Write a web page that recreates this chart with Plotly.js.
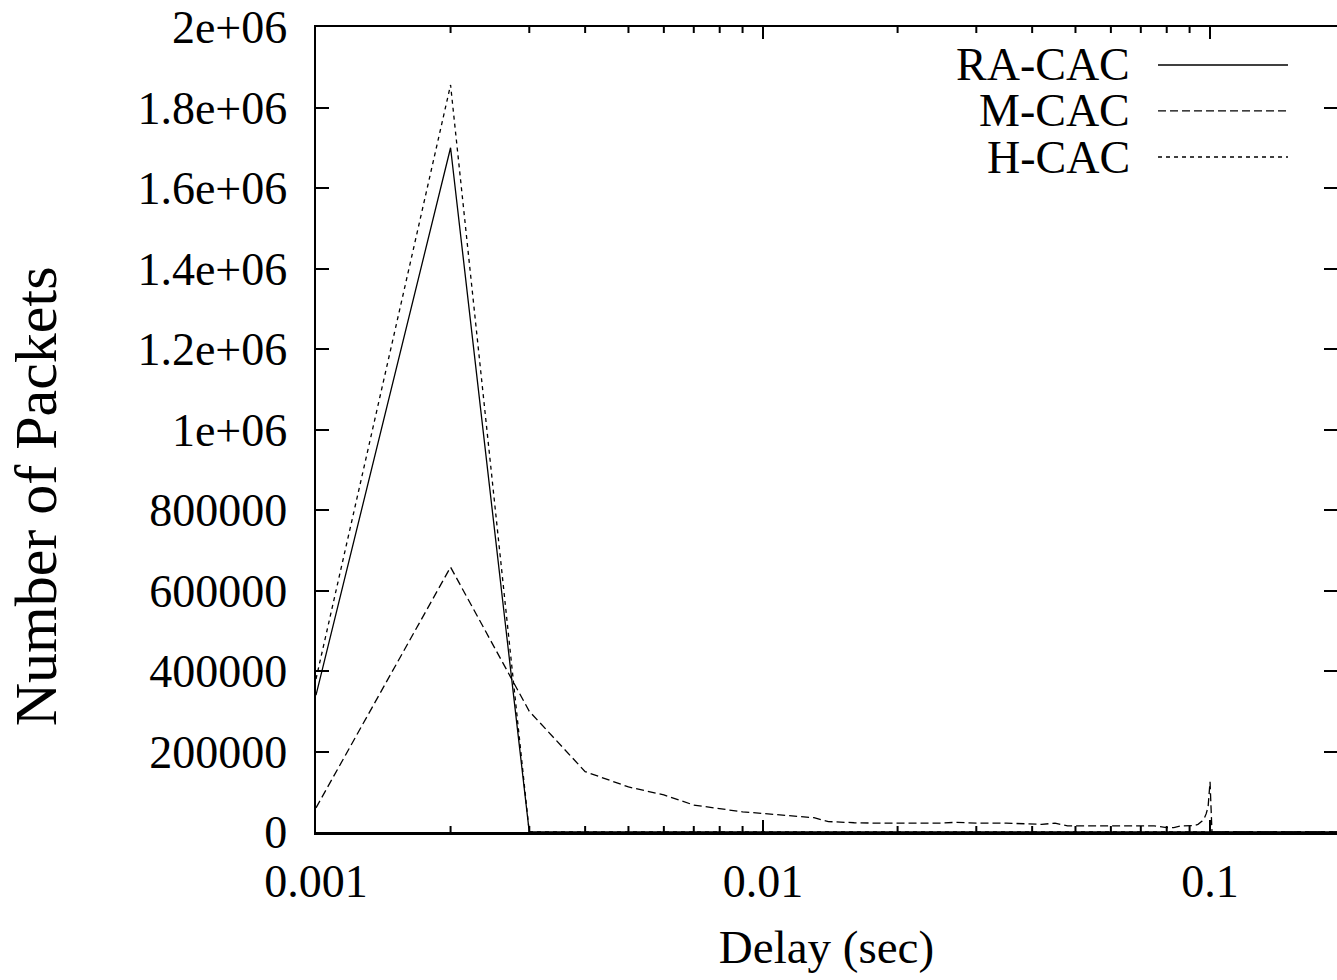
<!DOCTYPE html>
<html><head><meta charset="utf-8">
<script src="https://cdn.plot.ly/plotly-3.0.1.min.js"></script>
<style>html,body{margin:0;padding:0;background:#fff}#chart{width:1337px;height:980px}</style>
</head><body><div id="chart"></div>
<script>
// Delay bins (sec)
const delay = [0.001,0.002,0.003,0.004,0.005,0.006,0.007,0.008,0.009,0.010,
  0.011,0.012,0.013,0.014,0.015,0.016,0.018,0.020,0.025,0.027,
  0.030,0.035,0.040,0.042,0.045,0.048,0.055,0.065,0.075,0.080,
  0.083,0.086,0.090,0.092,0.094,0.095,0.096,0.097,0.098,0.099,
  0.100,0.101,0.150,0.200];
const raCac = [340000,1700000,0,0,0,0,0,0,0,0,
  0,0,0,0,0,0,0,0,0,0,
  0,0,0,0,0,0,0,0,0,0,
  0,0,0,0,0,0,0,0,0,0,
  0,0,0,0];
const mCac = [60000,658000,300000,150000,112000,92000,67000,57000,50000,46000,
  42000,38000,35500,26000,24000,23000,22000,22000,22000,24000,
  22000,22000,21000,19000,22000,15000,15000,15000,15000,11000,
  11000,15000,15000,16000,19000,22000,27000,33000,45000,62000,
  125000,0,0,0];
const hCac = [380000,1856000,0,0,0,0,0,0,0,0,
  0,0,0,0,0,0,0,0,0,0,
  0,0,0,0,0,0,0,0,0,0,
  0,0,0,0,0,0,0,0,0,0,
  0,0,0,0];
const seriesNames = ['RA-CAC','M-CAC','H-CAC'];
const seriesValues = [raCac, mCac, hCac];
const seriesDash = ['solid','8px,4px','4px,4px'];

const yTickVals = [0,200000,400000,600000,800000,1000000,1200000,1400000,1600000,1800000,2000000];
const yTickText = ['0','200000','400000','600000','800000','1e+06','1.2e+06','1.4e+06','1.6e+06','1.8e+06','2e+06'];
const xTickVals = [0.001,0.01,0.1];
const xTickText = ['0.001','0.01','0.1'];
const xMinorVals = [0.002,0.003,0.004,0.005,0.006,0.007,0.008,0.009,
  0.02,0.03,0.04,0.05,0.06,0.07,0.08,0.09];

const FONT = 'Liberation Serif, Times New Roman, serif';
const X_RANGE = [-3, -0.716];
const PLOT_H = 805; // plot area height in px (for tick lengths in paper units)

const traces = seriesNames.map((n,i)=>({
  x: delay, y: seriesValues[i], name: n, type:'scatter', mode:'lines',
  line:{color:'#000', width:1.3, dash:seriesDash[i]}, showlegend:false, hoverinfo:'skip'
}));

// manual gnuplot-style key: text right-aligned, sample to the right
const keyX0 = 0.8247, keyX1 = 0.952, keyTextX = 0.799;
const keyY = [0.9528, 0.8957, 0.8385];
const annotations = seriesNames.map((n,i)=>({
  xref:'paper', yref:'paper', x:keyTextX, y:keyY[i], xanchor:'right', yanchor:'middle',
  text:n, showarrow:false, font:{family:FONT, size:46, color:'#000'}
}));
annotations.push({
  xref:'paper', yref:'paper', x:-0.2742, y:0.417, xanchor:'center', yanchor:'middle',
  text:'Number of Packets', textangle:-90, showarrow:false, font:{family:FONT, size:60, color:'#000'}
});
const shapes = seriesNames.map((n,i)=>({
  type:'line', xref:'paper', yref:'paper', x0:keyX0, x1:keyX1, y0:keyY[i], y1:keyY[i],
  line:{color:'#000', width:1.3, dash:seriesDash[i]}
}));
// minor log ticks (bottom and top), inside, placed along the log axis span
const minorLen = 6 / PLOT_H;
xMinorVals.forEach(v=>{
  const px = (Math.log10(v) - X_RANGE[0]) / (X_RANGE[1] - X_RANGE[0]);
  shapes.push({type:'line', xref:'paper', yref:'paper', x0:px, x1:px, y0:0, y1:minorLen, line:{color:'#000', width:2}});
  shapes.push({type:'line', xref:'paper', yref:'paper', x0:px, x1:px, y0:1, y1:1-minorLen, line:{color:'#000', width:2}});
});

const layout = {
  width:1337, height:980,
  margin:{l:316, r:0, t:27, b:148, pad:0},
  paper_bgcolor:'#fff', plot_bgcolor:'#fff',
  font:{family:FONT, size:46, color:'#000'},
  showlegend:false,
  xaxis:{
    type:'log', range:X_RANGE, autorange:false,
    tickmode:'array', tickvals:xTickVals, ticktext:xTickText,
    ticks:'inside', ticklen:12, tickwidth:2, tickcolor:'#000',
    showline:true, linewidth:2.5, linecolor:'#000', mirror:'allticks',
    showgrid:false, zeroline:false,
    tickfont:{family:FONT, size:46, color:'#000'},
    ticklabelstandoff:7,
    title:{text:'Delay (sec)', font:{family:FONT, size:47, color:'#000'}, standoff:25}
  },
  yaxis:{
    range:[0, 2000000], autorange:false,
    tickmode:'array', tickvals:yTickVals, ticktext:yTickText,
    ticks:'inside', ticklen:13, tickwidth:2, tickcolor:'#000',
    showline:true, linewidth:2.5, linecolor:'#000', mirror:'allticks',
    showgrid:false, zeroline:false,
    tickfont:{family:FONT, size:46, color:'#000'},
    ticklabelstandoff:17
  },
  annotations: annotations,
  shapes: shapes
};

Plotly.newPlot('chart', traces, layout, {displayModeBar:false, staticPlot:true});
</script>
</body></html>
